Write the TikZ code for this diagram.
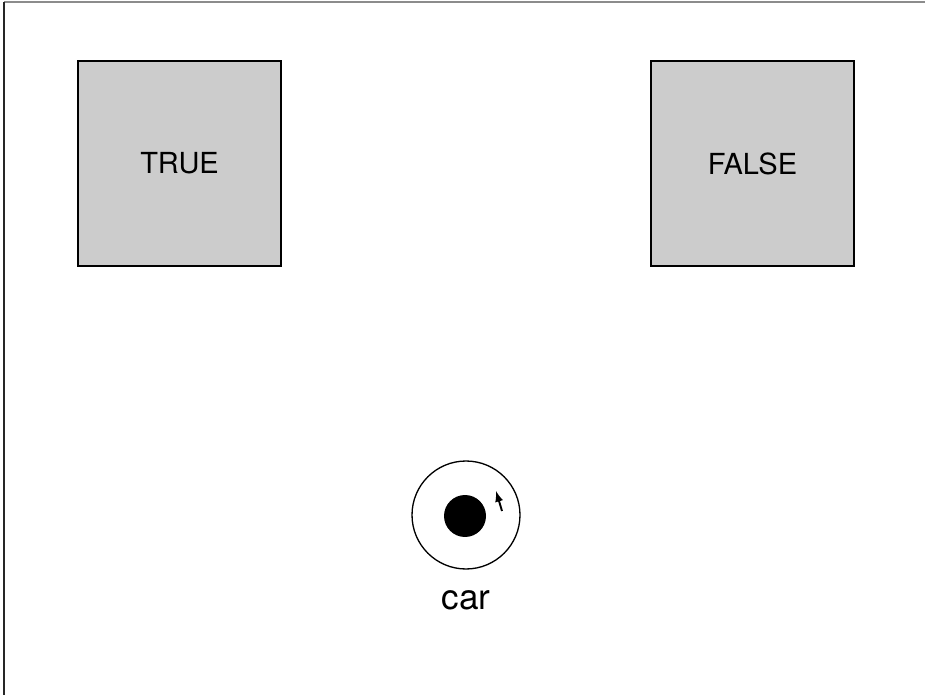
\documentclass[tikz,border=0pt]{standalone}
\usepackage{fontspec}
\setmainfont{TeX Gyre Heros}
\usetikzlibrary{arrows}

\begin{document}
\begin{tikzpicture}[x=0.02cm,y=-0.02cm]
    \tikzset{goal/.style={draw,fill=black!20,line width=0.7pt,minimum width=4.06cm,minimum height=4.1cm,font=\fontsize{16.5}{18}\selectfont}}
    \useasboundingbox (0,0) rectangle (925,695);
    \coordinate (tl) at (4,2);
    \coordinate (tr) at (925,2);
    \coordinate (bl) at (4,695);
    \draw[black!45,line width=0.6pt] (tl) -- (tr);
    \draw[black!85,line width=0.6pt] (tl) -- (bl);
    \node[goal] (true)  at (179.5,163.5) {TRUE};
    \node[goal] (false) at (752.5,163.5) {FALSE};
    \node[draw,circle,line width=0.75pt,minimum size=2.16cm,inner sep=0pt] (car) at (466,515) {};
    \node[fill=black,circle,minimum size=0.84cm,inner sep=0pt] (body) at (465,516) {};
    \node (label) at (466,600) {\fontsize{20}{22}\selectfont car};
    \coordinate (tail) at (502,511);
    \coordinate (head) at (496,491);
    \draw[-latex,line width=1.1pt] (tail) -- (head);
  \end{tikzpicture}
\end{document}
